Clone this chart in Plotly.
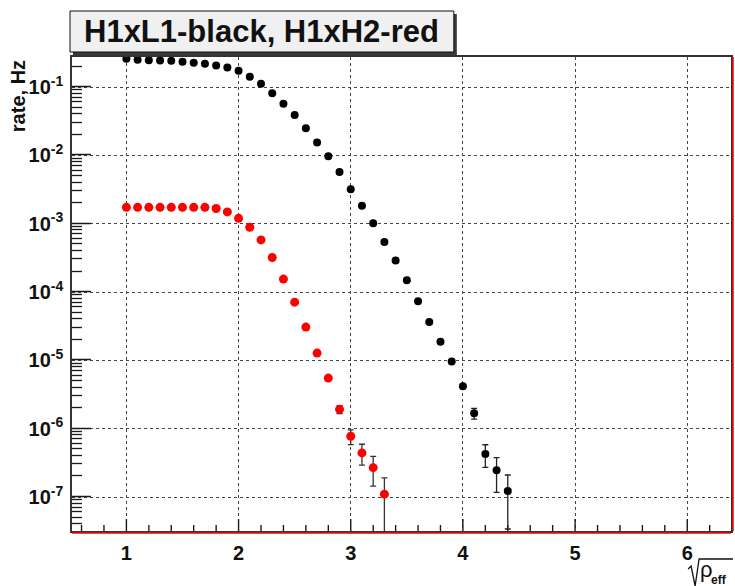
import math
import plotly.graph_objects as go

# sqrt(rho_eff) bin centres and coincidence rates (Hz)
x_h1l1 = [1.0, 1.1, 1.2, 1.3, 1.4, 1.5, 1.6, 1.7, 1.8, 1.9,
          2.0, 2.1, 2.2, 2.3, 2.4, 2.5, 2.6, 2.7, 2.8, 2.9,
          3.0, 3.1, 3.2, 3.3, 3.4, 3.5, 3.6, 3.7, 3.8, 3.9,
          4.0, 4.1, 4.2, 4.3, 4.4]
rate_h1l1 = [0.260, 0.252, 0.248, 0.246, 0.243, 0.235, 0.227, 0.220, 0.208, 0.193,
             0.174, 0.142, 0.112, 0.0815, 0.0571, 0.0390, 0.0249, 0.0155, 0.0097, 0.00572,
             0.00321, 0.00184, 0.00102, 5.42e-4, 2.90e-4, 1.49e-4, 7.36e-5, 3.66e-5, 1.87e-5, 9.67e-6,
             4.17e-6, 1.68e-6, 4.27e-7, 2.47e-7, 1.22e-7]
err_h1l1 = [0, 0, 0, 0, 0, 0, 0, 0, 0, 0,
            0, 0, 0, 0, 0, 0, 0, 0, 0, 0,
            0, 0, 0, 0, 0, 0, 0, 0, 0, 0,
            0, 0.30e-6, 1.55e-7, 1.30e-7, 0.88e-7]

x_h1h2 = [1.0, 1.1, 1.2, 1.3, 1.4, 1.5, 1.6, 1.7, 1.8, 1.9,
          2.0, 2.1, 2.2, 2.3, 2.4, 2.5, 2.6, 2.7, 2.8, 2.9,
          3.0, 3.1, 3.2, 3.3]
rate_h1h2 = [1.74e-3, 1.74e-3, 1.74e-3, 1.74e-3, 1.74e-3, 1.74e-3, 1.74e-3, 1.74e-3, 1.67e-3, 1.49e-3,
             1.20e-3, 8.89e-4, 5.80e-4, 3.21e-4, 1.55e-4, 7.12e-5, 3.07e-5, 1.28e-5, 5.51e-6, 1.92e-6,
             7.74e-7, 4.42e-7, 2.69e-7, 1.10e-7]
err_h1h2 = [0, 0, 0, 0, 0, 0, 0, 0, 0, 0,
            0, 0, 0, 0, 0, 0, 0, 0, 0, 0.25e-6,
            1.9e-7, 1.5e-7, 1.25e-7, 0.8e-7]

# axis labelling
x_tickvals = [1, 2, 3, 4, 5, 6]
y_decades = [-7, -6, -5, -4, -3, -2, -1]
y_ticktext = ["10<sup>-7</sup>", "10<sup>-6</sup>", "10<sup>-5</sup>", "10<sup>-4</sup>",
              "10<sup>-3</sup>", "10<sup>-2</sup>", "10<sup>-1</sup>"]
title_text = "H1xL1-black, H1xH2-red"
y_title = "rate, Hz"

# frame geometry in page pixels
W, H = 735, 586
L, R, T, B = 72, 733, 57, 531
PW, PH = R - L, B - T
X_RANGE = [0.515, 6.39]
Y_RANGE = [-7.4976, -0.559]


def px(xp):
    return (xp - L) / PW


def py(yp):
    return (B - yp) / PH


def ylog_paper(v):
    return (math.log10(v) - Y_RANGE[0]) / (Y_RANGE[1] - Y_RANGE[0])


def snap(frac, span):
    # keep horizontal tick strokes on whole pixel rows
    return (round(frac * span) + 0.5) / span


FONT = "Liberation Sans"
AX = "#1a1a1a"

y_major = [10.0 ** d for d in y_decades]
y_minor = [m * 10.0 ** d for d in [-8] + y_decades for m in range(2, 10)]
y_minor = [v for v in y_minor if Y_RANGE[0] < math.log10(v) < Y_RANGE[1]]
x_minor = [round(0.2 * k, 1) for k in range(3, 32) if k % 5 != 0]

fig = go.Figure()

fig.add_trace(go.Scatter(
    x=x_h1l1, y=rate_h1l1, mode="markers", name="H1xL1",
    marker=dict(color="black", size=8),
    error_y=dict(type="data", array=err_h1l1, color="#222222", thickness=1.3, width=3),
))
fig.add_trace(go.Scatter(
    x=x_h1h2, y=rate_h1h2, mode="markers", name="H1xH2",
    marker=dict(color="#ff0000", size=9),
    error_y=dict(type="data", array=err_h1h2, color="#333333", thickness=1.3, width=3),
))

tickfont = dict(family=FONT, size=20, color="#111111", weight="bold")

fig.update_xaxes(
    range=X_RANGE, tickmode="array", tickvals=x_tickvals,
    ticktext=[str(v) for v in x_tickvals], ticks="", ticklabelstandoff=3,
    showgrid=True, gridcolor="#444444", griddash="dot", gridwidth=1,
    showline=True, linecolor="#333333", linewidth=1.5, mirror=True,
    zeroline=False, tickfont=tickfont,
)
fig.update_yaxes(
    type="log", range=Y_RANGE, tickmode="array",
    tickvals=y_major, ticktext=y_ticktext, ticks="", ticklabelstandoff=3,
    showgrid=True, gridcolor="#444444", griddash="dot", gridwidth=1,
    showline=True, linecolor="#333333", linewidth=1.5, mirror=True,
    zeroline=False, tickfont=tickfont,
)

shapes = []
# tick marks drawn inward from the bottom and left frame edges
for v in x_tickvals:
    shapes.append(dict(type="line", xref="x", yref="paper", x0=v, x1=v,
                       y0=0, y1=12 / PH, line=dict(color=AX, width=1.4)))
for v in x_minor:
    shapes.append(dict(type="line", xref="x", yref="paper", x0=v, x1=v,
                       y0=0, y1=6 / PH, line=dict(color=AX, width=1.4)))
for v in y_major:
    yp = snap(ylog_paper(v), PH)
    shapes.append(dict(type="line", xref="paper", yref="paper", x0=0, x1=19 / PW,
                       y0=yp, y1=yp, line=dict(color=AX, width=1.5)))
for v in y_minor:
    yp = snap(ylog_paper(v), PH)
    shapes.append(dict(type="line", xref="paper", yref="paper", x0=0, x1=10 / PW,
                       y0=yp, y1=yp, line=dict(color=AX, width=1.3)))

shapes += [
    # red frame shadow on the bottom and right edges
    dict(type="line", xref="paper", yref="paper", x0=0, x1=1, y0=py(B + 2), y1=py(B + 2),
         line=dict(color="#ff0000", width=1.5)),
    dict(type="line", xref="paper", yref="paper", x0=px(R + 2), x1=px(R + 2), y0=0, y1=1,
         line=dict(color="#ff0000", width=1.5)),
    # title box with drop shadow
    dict(type="rect", xref="paper", yref="paper", x0=px(73), x1=px(458), y0=py(55), y1=py(14),
         fillcolor="#3a3a3a", line=dict(width=0)),
    dict(type="rect", xref="paper", yref="paper", x0=px(70), x1=px(455), y0=py(52), y1=py(11),
         fillcolor="#f0f0f0", line=dict(color="#111111", width=1)),
    # radical sign of the x-axis title
    dict(type="path", xref="paper", yref="paper",
         path="M {:.5f},{:.5f} L {:.5f},{:.5f} L {:.5f},{:.5f} L {:.5f},{:.5f} L {:.5f},{:.5f}".format(
             px(690), py(569), px(693), py(566), px(697), py(586), px(701), py(559), px(735), py(559)),
         line=dict(color="#111111", width=1.3)),
]

annotations = [
    dict(text="<b>" + title_text + "</b>", xref="paper", yref="paper",
         x=px(262.5), y=py(31.5), xanchor="center", yanchor="middle", showarrow=False,
         font=dict(family=FONT, size=31, color="#111111")),
    dict(text="<b>" + y_title + "</b>", xref="paper", yref="paper", textangle=-90,
         x=px(18), y=py(96), xanchor="center", yanchor="middle", showarrow=False,
         font=dict(family=FONT, size=20, color="#111111")),
    dict(text="ρ", xref="paper", yref="paper", x=px(708), y=py(569),
         xanchor="center", yanchor="middle", showarrow=False,
         font=dict(family=FONT, size=22, color="#111111")),
    dict(text="<b>eff</b>", xref="paper", yref="paper", x=px(721), y=py(580),
         xanchor="center", yanchor="middle", showarrow=False,
         font=dict(family=FONT, size=12, color="#111111")),
]

fig.update_layout(
    width=W, height=H, autosize=False,
    margin=dict(l=L, r=W - R, t=T, b=H - B, pad=0),
    paper_bgcolor="white", plot_bgcolor="white",
    showlegend=False, shapes=shapes, annotations=annotations,
)

fig.write_html("out.html")
